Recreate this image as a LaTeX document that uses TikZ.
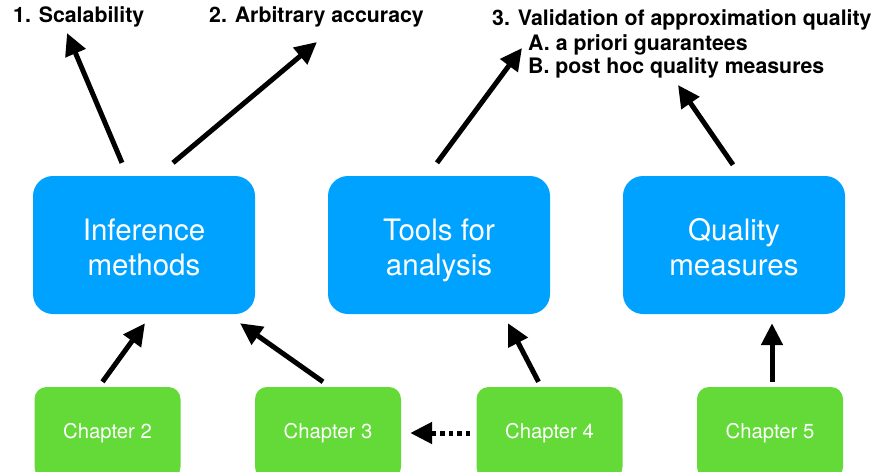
\documentclass[tikz,border=0pt]{standalone}
\usepackage{fontspec}
\setmainfont{TeX Gyre Heros}
\usepackage{tikz}
\usetikzlibrary{arrows.meta}

\definecolor{topicblue}{RGB}{0,162,255}
\definecolor{chapgreen}{RGB}{99,218,56}

\tikzset{
    topic/.style={rectangle, fill=topicblue, text=white, rounded corners=20pt,
        minimum width=222pt, minimum height=138pt, align=center,
        text height=60pt, text depth=0pt,
        font=\fontsize{29.5}{35}\selectfont},
    chap/.style={rectangle, fill=chapgreen, text=white, rounded corners=12pt,
        minimum width=146pt, minimum height=92pt,
        font=\fontsize{20.3}{24}\selectfont},
    goal/.style={anchor=base west, inner sep=0pt, font=\fontsize{21.3}{24}\selectfont\bfseries},
    link/.style={line width=5pt, -{Triangle[length=22pt, width=21pt]}}
}

\begin{document}
\begin{tikzpicture}[x=1pt, y=-1pt]
    \useasboundingbox (0,0) rectangle (875,471);

    % Goals
    \node[goal] (scal) at (13,23) {1. Scalability};
    \node[goal] (acc) at (209,23) {2. Arbitrary accuracy};
    \node[goal] (valid) at (492,25) {3. Validation of approximation quality};
    \node[goal] (prior) at (528,50) {A. a priori guarantees};
    \node[goal] (posthoc) at (528,73) {B. post hoc quality measures};

    % Topics
    \node[topic] (infer) at (144,245) {Inference\\methods};
    \node[topic] (tools) at (439,245) {Tools for\\analysis};
    \node[topic] (qual) at (734,245) {Quality\\measures};

    % Chapters
    \node[chap] (ch2) at (107.5,433) {Chapter 2};
    \node[chap] (ch3) at (328,433) {Chapter 3};
    \node[chap] (ch4) at (549.5,433) {Chapter 4};
    \node[chap] (ch5) at (770,433) {Chapter 5};

    % Topics to goals
    \draw[link] ([xshift=-22pt, yshift=13pt]infer.north) -- ([xshift=54pt, yshift=-10pt]scal.base west);
    \draw[link] ([xshift=29pt, yshift=13pt]infer.north) -- ([xshift=108pt, yshift=-19pt]acc.base west);
    \draw[link] ([xshift=-2pt, yshift=13pt]tools.north) -- ([xshift=-6pt, yshift=2pt]prior.base west);
    \draw[link] ([xshift=-1pt, yshift=11pt]qual.north) -- ([xshift=150pt, yshift=-12pt]posthoc.base west);

    % Chapters to topics
    \draw[link] ([xshift=-5pt, yshift=5pt]ch2.north) -- ([xshift=1pt, yshift=-9pt]infer.south);
    \draw[link] ([xshift=-5pt, yshift=5pt]ch3.north) -- ([xshift=96pt, yshift=-9pt]infer.south);
    \draw[link] ([xshift=-11pt, yshift=5pt]ch4.north) -- ([xshift=69pt, yshift=-9pt]tools.south);
    \draw[link] ([xshift=2pt, yshift=5pt]ch5.north) -- ([xshift=38pt, yshift=-9pt]qual.south);
    \draw[link, dash pattern=on 4.5pt off 4pt] ([xshift=-6pt]ch4.west) -- ([xshift=9pt]ch3.east);
\end{tikzpicture}
\end{document}
